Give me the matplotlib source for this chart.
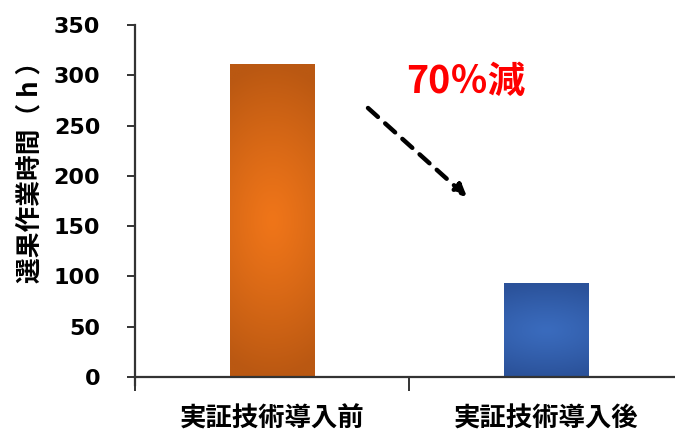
import matplotlib
matplotlib.use("Agg")
import matplotlib.pyplot as plt
import numpy as np
from matplotlib.colors import LinearSegmentedColormap

categories = ["実証技術導入前", "実証技術導入後"]
values = [311, 93]
edge_colors = ["#BA5812", "#2B529A"]
center_colors = ["#EF7519", "#3A6BBD"]
yticks = [0, 50, 100, 150, 200, 250, 300, 350]
ylabel = "選果作業時間（ h ）"
annotation = "70％減"

cjk = ["Noto Sans CJK JP", "DejaVu Sans"]

fig = plt.figure(figsize=(6.75, 4.34), dpi=100)
ax = fig.add_axes([135 / 675, 57 / 434, 548 / 675, 352 / 434])
ax.set_xlim(-0.5, 1.5)
ax.set_ylim(0, 350)

bar_w = 0.31
bars = ax.bar(range(len(values)), values, width=bar_w, color="none", edgecolor="none", zorder=2)

# gradient fill for each bar
n = 200
u = np.linspace(-1, 1, n)
U, V = np.meshgrid(u, u)
R = np.clip(np.sqrt((U * 0.45) ** 2 + V ** 2), 0, 1)
for b, ec, cc in zip(bars, edge_colors, center_colors):
    cmap = LinearSegmentedColormap.from_list("g", [cc, ec])
    x0, y0 = b.get_x(), b.get_y()
    w, h = b.get_width(), b.get_height()
    im = ax.imshow(R ** 1.2, cmap=cmap, vmin=0, vmax=1, extent=[x0, x0 + w, y0, y0 + h],
                   aspect="auto", origin="lower", zorder=2, interpolation="bilinear")
    im.set_clip_path(b)

for s in ["top", "right"]:
    ax.spines[s].set_visible(False)
ax.spines["left"].set_color("#333333")
ax.spines["bottom"].set_color("#333333")
ax.spines["left"].set_linewidth(1.6)
ax.spines["bottom"].set_linewidth(1.6)
ax.spines["left"].set_bounds(-8, 350)

ax.set_yticks(yticks)
ax.set_yticklabels([str(t) for t in yticks], fontsize=16, fontweight="bold", family="DejaVu Sans")
ax.tick_params(axis="y", direction="out", length=6, width=1.4, color="#333333", pad=19)

# category boundary ticks on x axis
ax.set_xticks([-0.5, 0.5, 1.5])
ax.set_xticklabels(["", "", ""])
ax.tick_params(axis="x", direction="out", length=10, width=1.4, color="#333333")
for i, c in enumerate(categories):
    ax.text(i, -42, c, ha="center", va="center", fontsize=19, fontweight="bold",
            family=cjk, transform=ax.transData, clip_on=False)

fig.text(30 / 675, 1 - 166 / 434, ylabel, rotation=90, ha="center", va="center",
         fontsize=18.5, fontweight="bold", family=cjk)

fig.text(466 / 675, 1 - 81 / 434, annotation, ha="center", va="center", color="#FF0000",
         fontsize=27, fontweight="bold", family=cjk)

ax.annotate("", xy=(467 / 675, 1 - 197 / 434), xytext=(368 / 675, 1 - 108 / 434),
            xycoords="figure fraction", textcoords="figure fraction",
            arrowprops=dict(arrowstyle="-|>,head_length=0.7,head_width=0.35", color="black",
                            lw=3.2, linestyle=(0, (3, 2.2)), shrinkA=0, shrinkB=0))

fig.savefig("out.png", dpi=100)
